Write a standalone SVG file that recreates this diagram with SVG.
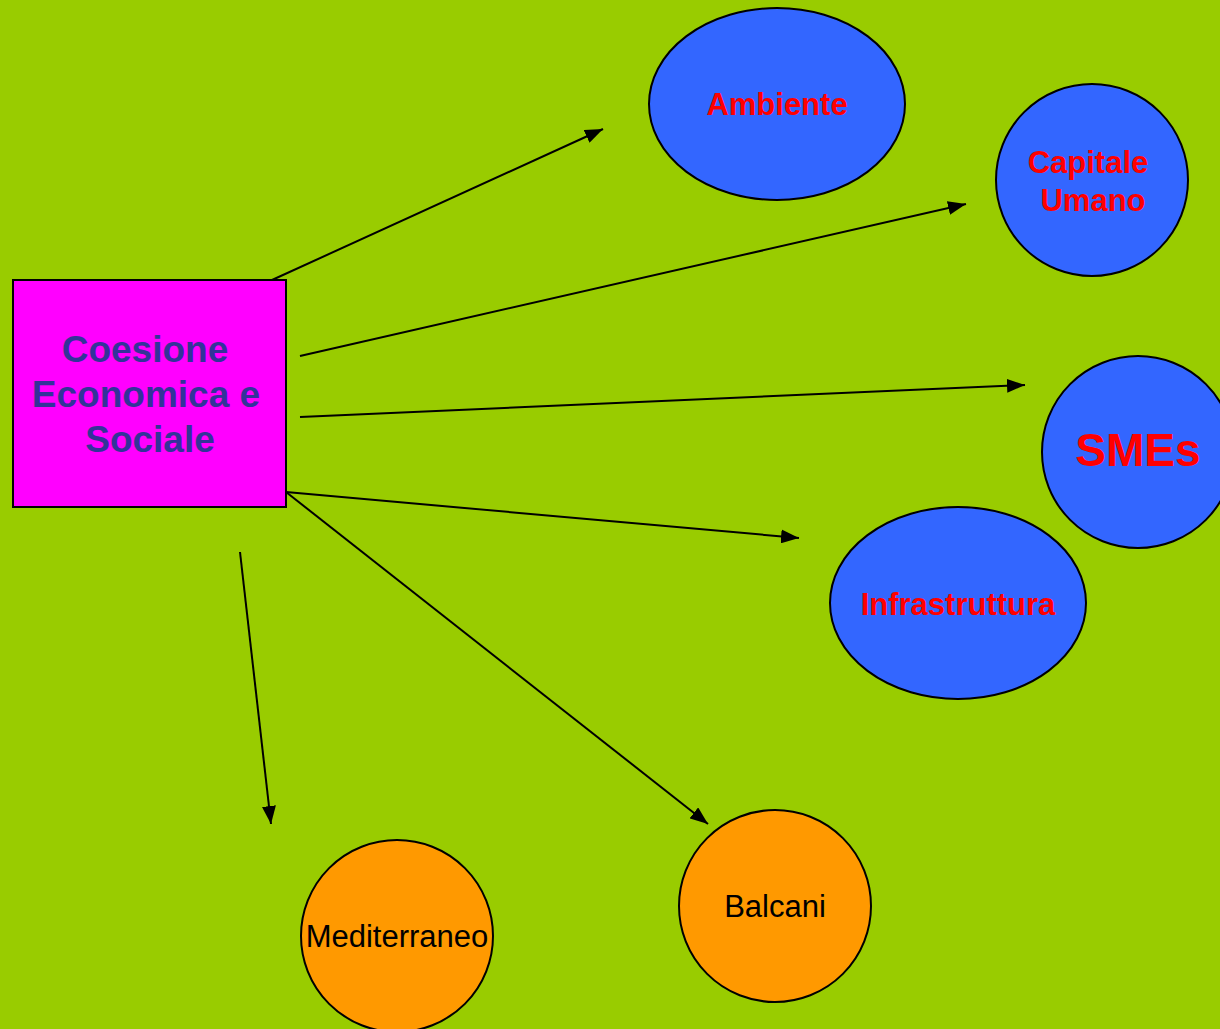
<svg xmlns="http://www.w3.org/2000/svg" width="1220" height="1029" viewBox="0 0 1220 1029">
<defs>
<marker id="ah" markerWidth="18" markerHeight="14" refX="18" refY="7" orient="auto" markerUnits="userSpaceOnUse">
<path d="M0,0 L18,7 L0,14 Z" fill="#000"/>
</marker>
<style>
.blue{fill:#3366FF;stroke:#000;stroke-width:2}
.orange{fill:#FF9900;stroke:#000;stroke-width:2}
.rt{font-family:"Liberation Sans",Arial,sans-serif;font-weight:bold;fill:#FF0000;font-size:31px;text-anchor:middle}
.bt{font-family:"Liberation Sans",Arial,sans-serif;fill:#000;font-size:31px;text-anchor:middle}
.ct{font-family:"Liberation Sans",Arial,sans-serif;font-weight:bold;fill:#333399;font-size:37px;text-anchor:middle}
.c{stroke:#000;stroke-width:2;fill:none;marker-end:url(#ah)}
</style>
</defs>
<rect width="1220" height="1029" fill="#99CC00"/>
<g id="connectors">
<line class="c" x1="272" y1="280" x2="603" y2="129"/>
<line class="c" x1="300" y1="356" x2="966" y2="204"/>
<line class="c" x1="300" y1="417" x2="1025" y2="385"/>
<line class="c" x1="286" y1="492" x2="799" y2="538"/>
<line class="c" x1="286" y1="492" x2="708" y2="824"/>
<line class="c" x1="240" y1="552" x2="271" y2="824"/>
</g>
<g id="coesione">
<rect x="13" y="280" width="273" height="227" fill="#FF00FF" stroke="#000" stroke-width="2"/>
<text class="ct" x="145" y="362">Coesione</text>
<text class="ct" x="146" y="407">Economica e</text>
<text class="ct" x="150" y="452">Sociale</text>
</g>
<g id="ambiente">
<ellipse class="blue" cx="777" cy="104" rx="128" ry="96"/>
<text class="rt" x="777" y="115">Ambiente</text>
</g>
<g id="capitale">
<circle class="blue" cx="1092" cy="180" r="96"/>
<text class="rt" x="1088" y="173">Capitale</text>
<text class="rt" x="1093" y="211">Umano</text>
</g>
<g id="smes">
<circle class="blue" cx="1138" cy="452" r="96"/>
<text class="rt" x="1138" y="466" style="font-size:46px">SMEs</text>
</g>
<g id="infrastruttura">
<ellipse class="blue" cx="958" cy="603" rx="128" ry="96"/>
<text class="rt" x="958" y="615">Infrastruttura</text>
</g>
<g id="mediterraneo">
<circle class="orange" cx="397" cy="936" r="96"/>
<text class="bt" x="397" y="947">Mediterraneo</text>
</g>
<g id="balcani">
<circle class="orange" cx="775" cy="906" r="96"/>
<text class="bt" x="775" y="917">Balcani</text>
</g>
</svg>
